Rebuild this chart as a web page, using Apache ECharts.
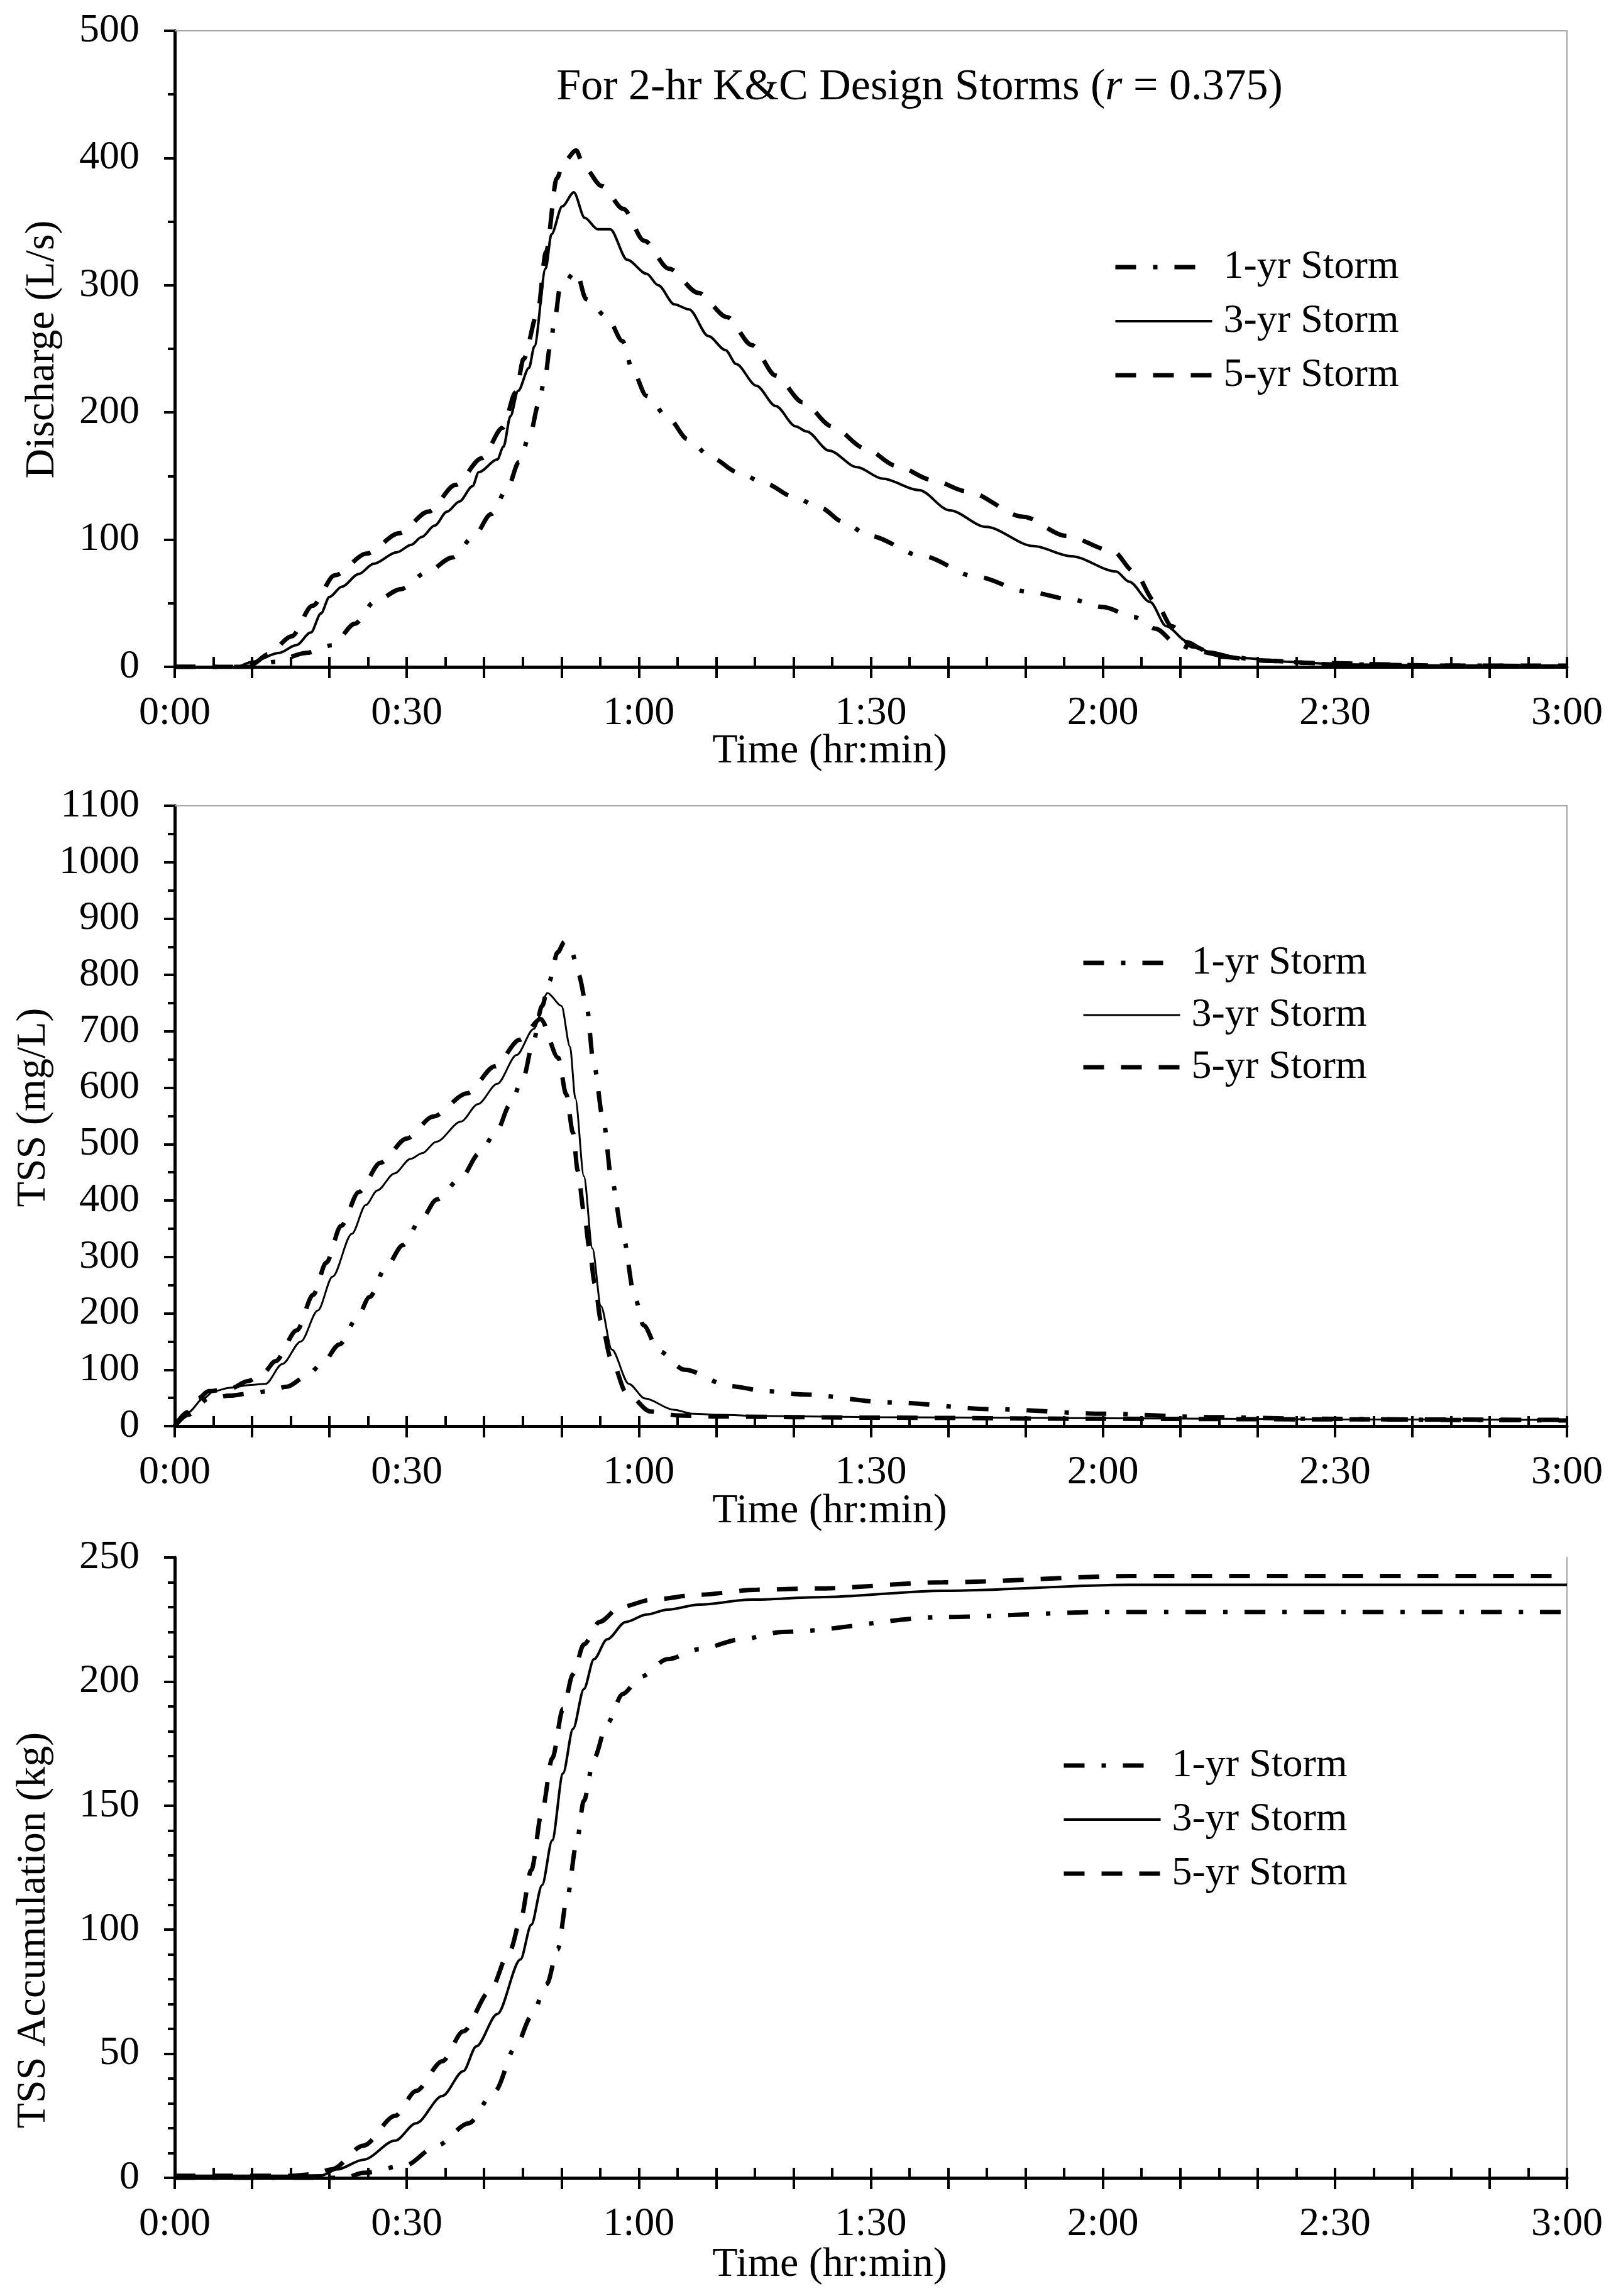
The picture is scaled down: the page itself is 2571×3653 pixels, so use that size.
<!DOCTYPE html>
<html><head><meta charset="utf-8">
<script src="https://cdn.jsdelivr.net/npm/echarts@6/dist/echarts.min.js"></script>
<style>html,body{margin:0;padding:0;background:#fff}#c{width:2571px;height:3653px}</style>
</head><body><div id="c"></div>
<script>
// ---------- DATA (time in minutes) ----------
const seriesNames = ['1-yr Storm', '3-yr Storm', '5-yr Storm'];
const xTickLabels = ['0:00', '0:30', '1:00', '1:30', '2:00', '2:30', '3:00'];

// Discharge (L/s)
const q1T = [0,10,12.9,17,20.4,23.3,25.8,29.2,32.5,35.9,38.6,40.9,43,44.5,46,47,47.9,48.5,49.2,49.8,51.9,53.2,55.9,57.9,59.2,61,63.9,66.3,69.5,72.8,76.4,79.9,83.5,86.4,89.8,96.7,103.5,110.4,115.9,120,124.1,126.8,129.6,132.3,136.4,140.5,150,165,180];
const q1V = [0,0,4,11,17,34,51,61,74,86,102,120,140,161,184,206,228,251,276,298,311,289,275,256,233,213,195,179,164,153,144,134,125,114,103,87,71,59,53,47,39,30,18,12,8,5,2,1,0.5];
const q3T = [0,8,10,13.5,15.7,17.6,18.9,20,21.6,23.8,25.7,28.7,30.6,31.9,33.6,35.2,36.8,38.5,39.3,41.7,42.5,43.4,44.4,45.8,46.5,47.95,48.7,50.1,51.6,53,54.7,56.3,58.5,61,62.5,64.6,66.5,69,71.2,72.6,75.2,77.7,80.3,81.7,84.6,88.2,91.5,96.2,100.2,104.9,111,115.9,121.7,123.4,126.1,128.2,130.9,133.7,137.8,144,150.8,165,180];
const q3V = [0,0,4,11,17,27,42,55,63,73,81,90,96,102,111,122,130,142,153,163,173,197,217,235,252,313,340,362,373,353,344,344,320,309,300,285,281,260,249,238,221,205,189,185,170,157,148,139,123,110,95,87,75,67,51,32,20,12,7,4,2,1,1];
const q5T = [0,8,10,12.1,15.1,17.8,20.7,24.8,29,32.8,36.3,39.7,42.4,44.1,45.1,46.9,48,49.4,50.3,51.9,52.9,55.2,58,60.7,63.9,67.7,71.4,74.6,77.7,81.2,85,89.2,93.3,97.9,102.4,109.7,115.2,121.3,124,126.8,128.9,131.6,135.1,140.5,147.4,165,180];
const q5V = [0,0,2,10,24,48,72,89,105,122,143,164,188,216,242,278,326,384,397,406,393,378,360,335,313,294,275,253,229,208,189,172,158,147,138,118,103,91,75,51,32,16,8,5,3,1,1];

// TSS (mg/L)
const c1T = [0,1.7,4.4,7.1,9.8,12.1,14.5,17,19,21.3,23.5,25.2,27.3,29.5,31.8,33.9,37,39.4,41.7,43.3,45.1,46.2,47.5,48.4,49.5,50.4,51.4,52.2,53.2,54.2,55.4,56.5,57.9,59.5,60.6,62.6,65.9,71.8,76.5,81.3,92.5,106,120,133.7,147.4,165,180];
const c1V = [0,20,49,54,58,62,70,88,110,145,190,229,282,321,366,402,440,484,525,569,619,673,745,788,840,859,838,801,750,640,543,436,340,228,179,133,100,71,62,56,42,30,22,16,13,11,10];
const c3T = [0,1.7,3.7,5.1,7.1,9.8,11.75,13.9,16.3,18.5,20.4,22.9,24.7,26.2,28.4,30.5,32,33.8,37,39.2,41.7,44.2,46.4,48.2,50,51.1,51.8,52.9,54,55.1,56.5,58.7,60.8,64.5,67,70.5,75.9,90,120,150,180];
const c3V = [0,24,49,62,68,73,75,110,150,205,265,341,392,418,448,474,484,504,540,571,607,658,704,768,745,673,581,443,315,213,136,75,49,29,22,20,18,16,14,12,11];
const c5T = [0,1.7,3,4.4,7.1,9.5,11.5,13,15.8,17.9,19.6,21.5,23.8,26.6,30,33.4,37.8,41.4,44.6,47.3,49.6,50.6,51.5,52.1,52.9,53.6,54.3,55.1,56.4,58.4,61.5,65,70,90,120,150,180];
const c5V = [0,25,49,62,66,80,95,115,170,233,290,355,415,467,510,549,590,638,685,722,653,589,520,453,381,317,253,187,120,59,26,19,17,15,13,12,11];

// TSS accumulation (kg)
const a1T = [0,22,24.4,29.8,33.9,38,41.4,44.1,46.1,48.1,49.5,50.8,51.9,52.9,54.2,55.9,57.9,60.3,63.7,67.8,73.2,78.6,99.4,120,150,180];
const a1V = [0,0,2,5,13,22,35,53,65,78,92,114,134,152,169,183,195,202,209,213,217,220,226,228,228,228];
const a3T = [0,15,19,21,24.4,28.5,31.2,34.6,37.3,39,41.7,44.7,46.1,47.5,48.8,50.2,51.5,52.9,54.2,55.9,58.3,61,63.7,67.8,74.6,83.3,99.4,123.4,150,180];
const a3V = [0.8,0.8,1,3.4,7.3,15,22,33,43,53,66,88,102,118,136,163,181,197,209,217,224,227,229,231,233,234,236.6,239,239,239];
const a5T = [0,15,18,20.3,24.4,28.5,31.2,34.6,37.3,40.7,43.4,44.7,46.1,47.5,48.8,50.2,51.5,52.9,54.9,57.6,61.7,67.8,75.3,83,99.4,123.4,150,180];
const a5V = [0.8,0.8,1.5,3.4,13,25,35,47,59,75,92,104,124,148,169,189,203,215,224,230,233,235,237,237.5,240,242.5,242.5,242.5];

// ---------- CHART ----------
const FONT = '"Liberation Serif", "Times New Roman", serif';
const zip = (t, v) => t.map((x, i) => [x, v[i]]);

const panels = [
  { grid: { left: 278, top: 49, width: 2215, height: 1012 }, yMax: 500, yInt: 100, ySplit: 2, topBorder: true,
    data: [zip(q1T, q1V), zip(q3T, q3V), zip(q5T, q5V)], w3: 4,
    legend: { left: 1766, top: 388, gap: 22 },
    yTitle: { text: 'Discharge (L/s)', x: 68, y: 556 }, xTitleY: 1196 },
  { grid: { left: 278, top: 1282, width: 2215, height: 987 }, yMax: 1100, yInt: 100, ySplit: 2, topBorder: true,
    data: [zip(c1T, c1V), zip(c3T, c3V), zip(c5T, c5V)], w3: 3,
    legend: { left: 1715, top: 1495, gap: 19 },
    yTitle: { text: 'TSS (mg/L)', x: 54, y: 1762 }, xTitleY: 2405 },
  { grid: { left: 278, top: 2478, width: 2215, height: 987 }, yMax: 250, yInt: 50, ySplit: 5, topBorder: false,
    data: [zip(a1T, a1V), zip(a3T, a3V), zip(a5T, a5V)], w3: 4,
    legend: { left: 1684, top: 2772, gap: 22 },
    yTitle: { text: 'TSS Accumulation (kg)', x: 54, y: 3071 }, xTitleY: 3604 }
];

const dash1 = [33, 27, 7, 27];
const dash5 = [33, 27];
const grids = [], xAxis = [], yAxis = [], series = [], legend = [], graphic = [];

panels.forEach((p, g) => {
  grids.push(Object.assign({ containLabel: false }, p.grid));
  const xMain = xAxis.length;
  xAxis.push({
    gridIndex: g, type: 'value', position: 'bottom', min: 0, max: 180, interval: 10,
    axisLine: { show: true, onZero: false, lineStyle: { color: '#000', width: 5 } },
    axisTick: { show: true, inside: false, length: 18, lineStyle: { color: '#000', width: 4 } },
    axisLabel: { margin: 42, fontSize: 64, fontFamily: FONT, color: '#000',
      formatter: v => (v % 30 === 0 ? xTickLabels[v / 30] : '') },
    splitLine: { show: false }
  });
  xAxis.push({
    gridIndex: g, type: 'value', position: 'bottom', min: 0, max: 180, interval: 5,
    axisLine: { show: false }, axisLabel: { show: false }, splitLine: { show: false },
    axisTick: { show: true, inside: true, length: 16, lineStyle: { color: '#000', width: 4 } }
  });
  if (p.topBorder) {
    xAxis.push({
      gridIndex: g, type: 'value', position: 'top', min: 0, max: 180,
      axisLine: { show: true, onZero: false, lineStyle: { color: '#a6a6a6', width: 2 } },
      axisTick: { show: false }, axisLabel: { show: false }, splitLine: { show: false }
    });
  }
  const yMain = yAxis.length;
  yAxis.push({
    gridIndex: g, type: 'value', position: 'left', min: 0, max: p.yMax, interval: p.yInt,
    axisLine: { show: true, onZero: false, lineStyle: { color: '#000', width: 5 } },
    axisTick: { show: true, inside: false, length: 17, lineStyle: { color: '#000', width: 4 } },
    minorTick: { show: true, splitNumber: p.ySplit, length: 11, lineStyle: { color: '#000', width: 4 } },
    axisLabel: { margin: 56, fontSize: 64, fontFamily: FONT, color: '#000', formatter: v => String(v) },
    splitLine: { show: false }, minorSplitLine: { show: false }
  });
  yAxis.push({
    gridIndex: g, type: 'value', position: 'right', min: 0, max: p.yMax,
    axisLine: { show: true, onZero: false, lineStyle: { color: '#a6a6a6', width: 2 } },
    axisTick: { show: false }, axisLabel: { show: false }, splitLine: { show: false }
  });

  const styles = [
    { color: '#000', width: 7, type: dash1 },
    { color: '#000', width: p.w3, type: 'solid' },
    { color: '#000', width: 7, type: dash5 }
  ];
  p.data.forEach((d, k) => {
    series.push({
      type: 'line', name: seriesNames[k], xAxisIndex: xMain, yAxisIndex: yMain,
      data: d, showSymbol: false, symbol: 'none', smooth: 0.3, smoothMonotone: 'x',
      lineStyle: Object.assign({ cap: 'butt' }, styles[k]), itemStyle: { color: '#000' },
      silent: true, animation: false, z: 3
    });
  });

  legend.push({
    orient: 'vertical', left: p.legend.left, top: p.legend.top,
    itemWidth: 154, itemHeight: 20, itemGap: p.legend.gap, selectedMode: false,
    textStyle: { fontSize: 64, fontFamily: FONT, color: '#000', padding: [0, 0, 0, 13] },
    data: seriesNames.map((n, k) => ({
      name: n,
      lineStyle: styles[k],
      itemStyle: { color: 'rgba(0,0,0,0)', borderColor: 'rgba(0,0,0,0)', borderWidth: 0, opacity: 0 }
    }))
  });

  graphic.push({
    type: 'text', x: 1320, y: p.xTitleY,
    style: { text: 'Time (hr:min)', font: '66px ' + FONT, fill: '#000', align: 'center', verticalAlign: 'middle' }
  });
  graphic.push({
    type: 'text', x: p.yTitle.x, y: p.yTitle.y, rotation: Math.PI / 2,
    style: { text: p.yTitle.text, font: '66px ' + FONT, fill: '#000', align: 'center', verticalAlign: 'middle' }
  });
});

graphic.push({
  type: 'text', x: 1463, y: 140,
  style: {
    text: '{n|For 2-hr K&C Design Storms (}{i|r}{n| = 0.375)}',
    rich: {
      n: { fontSize: 70, fontFamily: FONT, fill: '#000' },
      i: { fontSize: 70, fontFamily: FONT, fontStyle: 'italic', fill: '#000' }
    },
    align: 'center', verticalAlign: 'middle'
  }
});

const chart = echarts.init(document.getElementById('c'), null, { renderer: 'canvas' });
chart.setOption({
  backgroundColor: '#fff', animation: false,
  grid: grids, xAxis: xAxis, yAxis: yAxis, series: series, legend: legend, graphic: graphic
});
</script></body></html>
